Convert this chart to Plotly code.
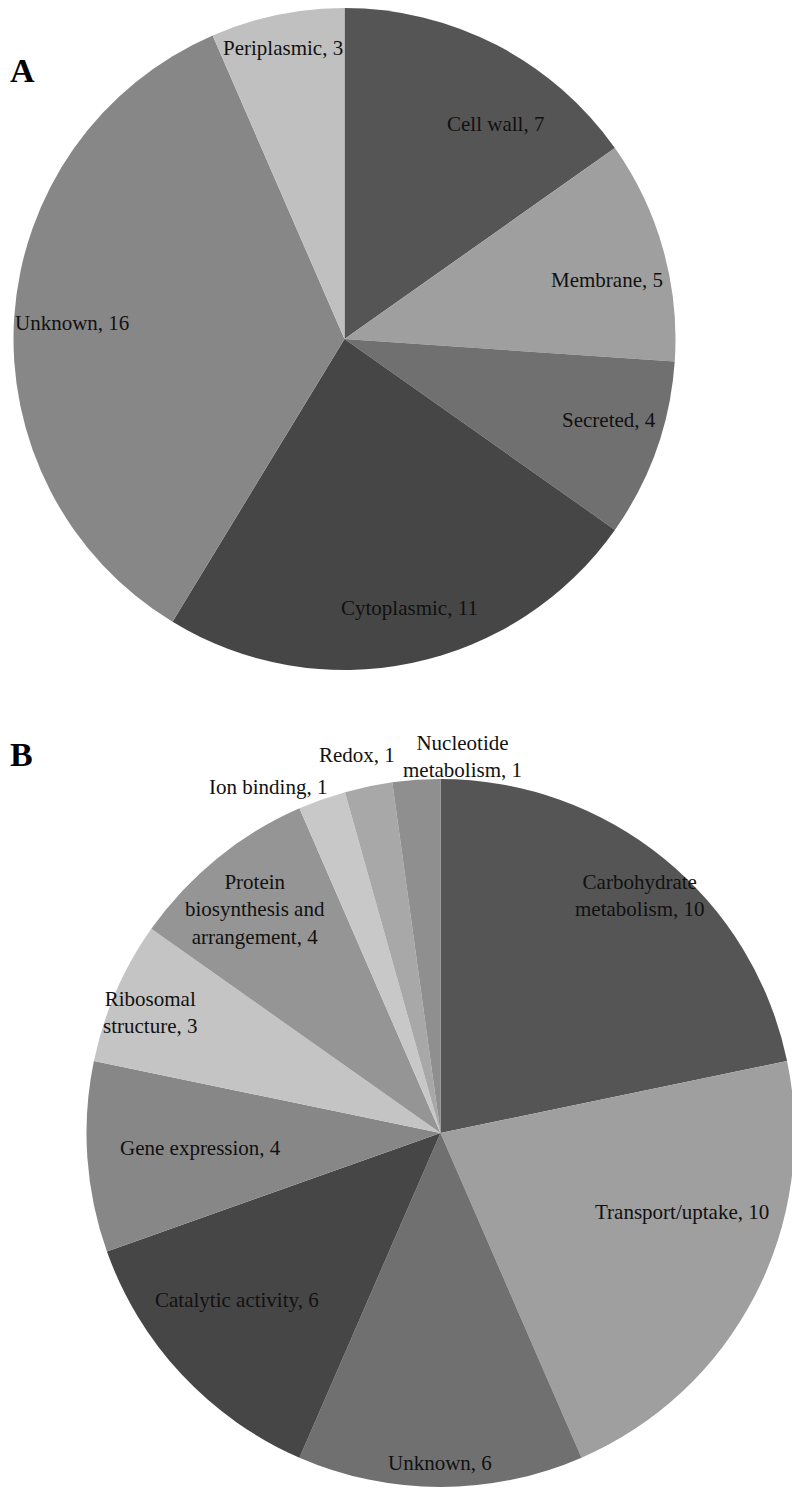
import plotly.graph_objects as go

# panel A - subcellular localisation
loc_labels = ["Cell wall", "Membrane", "Secreted", "Cytoplasmic", "Unknown", "Periplasmic"]
loc_counts = [7, 5, 4, 11, 16, 3]
loc_colors = ["#555555", "#9f9f9f", "#707070", "#464646", "#878787", "#c0c0c0"]
# where the label text sits (pixels on the page)
loc_text_x = [495, 607, 609, 410, 72, 283]
loc_text_y = [124, 280, 420, 608, 323, 48]

# panel B - functional category
fun_labels = ["Carbohydrate<br>metabolism", "Transport/uptake", "Unknown", "Catalytic activity",
              "Gene expression", "Ribosomal<br>structure", "Protein<br>biosynthesis and<br>arrangement",
              "Ion binding", "Redox", "Nucleotide<br>metabolism"]
fun_counts = [10, 10, 6, 6, 4, 3, 4, 1, 1, 1]
fun_colors = ["#555555", "#9f9f9f", "#707070", "#464646", "#878787", "#c4c4c4", "#959595",
              "#c8c8c8", "#a8a8a8", "#8f8f8f"]
fun_text_x = [640, 682, 440, 237, 200, 150, 255, 268, 357, 462]
fun_text_y = [895, 1212, 1463, 1300, 1148, 1012, 910, 787, 755, 756]

W, H = 800, 1492
OFF = 8  # page body margin around the plot div


def px(x):
    return (x - OFF) / W


def py(y):
    return 1 - (y - OFF) / H


def clip(v):
    return min(max(v, 0), 1)


label_font = dict(family="Liberation Serif", size=21, color="#111111")

fig = go.Figure()

fig.add_trace(go.Pie(
    labels=loc_labels, values=loc_counts, sort=False, direction="clockwise", rotation=0,
    marker=dict(colors=loc_colors, line=dict(width=0)),
    textinfo="none",
    domain=dict(x=[clip(px(12)), clip(px(677))], y=[clip(py(670)), clip(py(5))]),
    showlegend=False, hoverinfo="label+value",
))

fig.add_trace(go.Pie(
    labels=fun_labels, values=fun_counts, sort=False, direction="clockwise", rotation=0,
    marker=dict(colors=fun_colors, line=dict(width=0)),
    textinfo="none",
    domain=dict(x=[clip(px(86)), clip(px(795))], y=[clip(py(1487)), clip(py(779))]),
    showlegend=False, hoverinfo="label+value",
))

for labels, counts, xs, ys in [(loc_labels, loc_counts, loc_text_x, loc_text_y),
                               (fun_labels, fun_counts, fun_text_x, fun_text_y)]:
    for lab, n, x, y in zip(labels, counts, xs, ys):
        fig.add_annotation(text="%s, %d" % (lab, n), x=px(x), y=py(y), xref="paper", yref="paper",
                           xanchor="center", yanchor="middle", showarrow=False, align="center",
                           font=label_font)

for letter, ypos in [("A", 71), ("B", 755)]:
    fig.add_annotation(text="<b>%s</b>" % letter, x=0, y=py(ypos), xref="paper", yref="paper",
                       xanchor="left", yanchor="middle", showarrow=False,
                       font=dict(family="Liberation Serif", size=34, color="black"))

fig.update_layout(
    width=W, height=H,
    margin=dict(l=0, r=0, t=0, b=0),
    paper_bgcolor="white", plot_bgcolor="white",
)

fig.write_html("out.html")
